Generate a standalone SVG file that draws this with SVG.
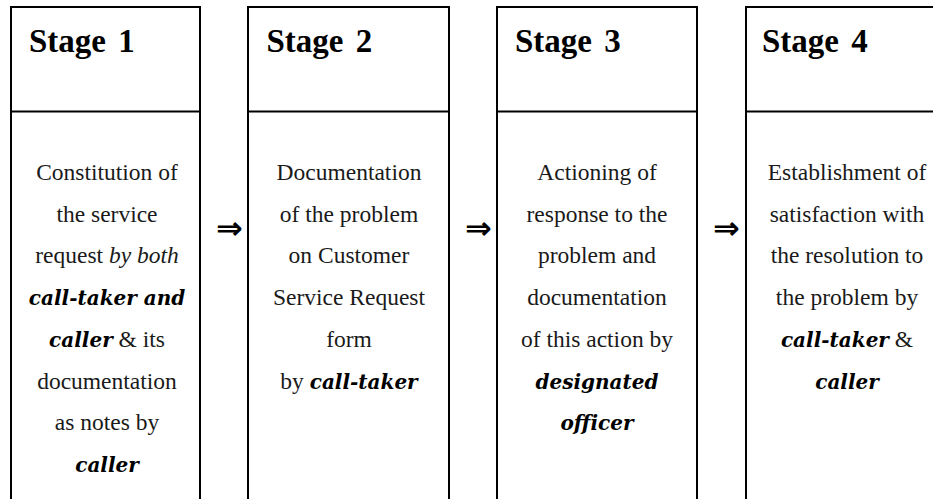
<svg xmlns="http://www.w3.org/2000/svg" width="933" height="499" viewBox="0 0 933 499">
<style>
.frame{fill:none;stroke:#000;stroke-width:2}
.div{stroke:#000;stroke-width:1.8}
.head{font-family:"Liberation Serif","Times New Roman",serif;font-weight:bold;font-size:33px;fill:#000;word-spacing:4px}
.body{font-family:"Liberation Serif","Times New Roman",serif;font-size:23.5px;fill:#1a1a1a;text-anchor:middle}
.bi{font-family:"DejaVu Serif",serif;font-weight:bold;font-style:italic;font-size:20px;fill:#000}
.it{font-style:italic}
.arrow{font-family:"DejaVu Sans",sans-serif;font-weight:bold;font-size:32px;fill:#000}
</style>
<rect width="933" height="499" fill="#fff"/>
<g id="stage1">
<path class="frame" d="M11,505 V7 H200 V505"/>
<line class="div" x1="11" y1="111.5" x2="200" y2="111.5"/>
<text class="head" x="29" y="52">Stage 1</text>
<text class="body" x="107" y="180">Constitution of</text>
<text class="body" x="107" y="222">the service</text>
<text class="body" x="107" y="263">request <tspan class="it">by both</tspan></text>
<text class="body" x="107" y="305"><tspan class="bi">call-taker and</tspan></text>
<text class="body" x="107" y="347"><tspan class="bi">caller</tspan> &amp; its</text>
<text class="body" x="107" y="389">documentation</text>
<text class="body" x="107" y="430">as notes by</text>
<text class="body" x="107" y="472"><tspan class="bi">caller</tspan></text>
</g>
<g id="stage2">
<path class="frame" d="M248,505 V7 H449 V505"/>
<line class="div" x1="248" y1="111.5" x2="449" y2="111.5"/>
<text class="head" x="266.5" y="52">Stage 2</text>
<text class="body" x="349" y="180">Documentation</text>
<text class="body" x="349" y="222">of the problem</text>
<text class="body" x="349" y="263">on Customer</text>
<text class="body" x="349" y="305">Service Request</text>
<text class="body" x="349" y="347">form</text>
<text class="body" x="349" y="389">by <tspan class="bi">call-taker</tspan></text>
</g>
<g id="stage3">
<path class="frame" d="M497,505 V7 H697 V505"/>
<line class="div" x1="497" y1="111.5" x2="697" y2="111.5"/>
<text class="head" x="515" y="52">Stage 3</text>
<text class="body" x="597" y="180">Actioning of</text>
<text class="body" x="597" y="222">response to the</text>
<text class="body" x="597" y="263">problem and</text>
<text class="body" x="597" y="305">documentation</text>
<text class="body" x="597" y="347">of this action by</text>
<text class="body" x="597" y="389"><tspan class="bi">designated</tspan></text>
<text class="body" x="597" y="430"><tspan class="bi">officer</tspan></text>
</g>
<g id="stage4">
<path class="frame" d="M746,505 V7 H950"/>
<line class="div" x1="746" y1="111.5" x2="950" y2="111.5"/>
<text class="head" x="762" y="52">Stage 4</text>
<text class="body" x="847" y="180">Establishment of</text>
<text class="body" x="847" y="222">satisfaction with</text>
<text class="body" x="847" y="263">the resolution to</text>
<text class="body" x="847" y="305">the problem by</text>
<text class="body" x="847" y="347"><tspan class="bi">call-taker</tspan> &amp;</text>
<text class="body" x="847" y="389"><tspan class="bi">caller</tspan></text>
</g>
<g id="connectors">
<text class="arrow" x="216" y="239">⇒</text>
<text class="arrow" x="465" y="239">⇒</text>
<text class="arrow" x="713" y="239">⇒</text>
</g>
</svg>
